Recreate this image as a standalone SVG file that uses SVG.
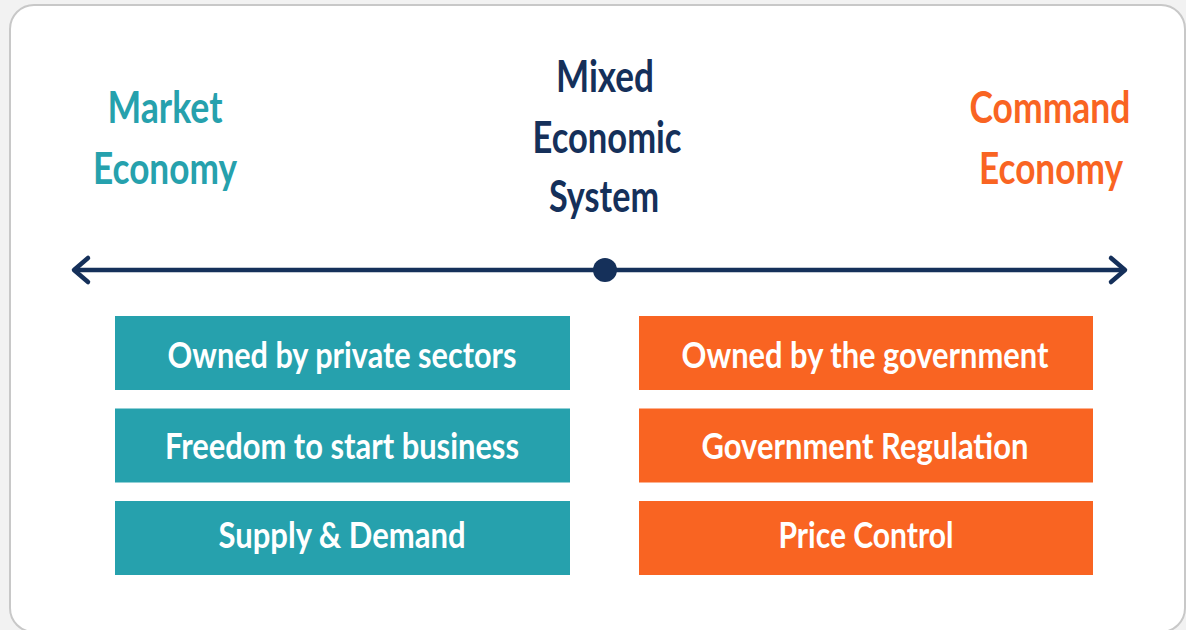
<svg xmlns="http://www.w3.org/2000/svg" width="1186" height="630" viewBox="0 0 1186 630">
<style>
.t{font-family:Lato,"Open Sans","Liberation Sans",sans-serif;font-weight:bold;text-anchor:middle}
.h{font-size:44px}
.b{font-size:36px;fill:#ffffff}
.teal{fill:#26A1AD}
.orange{fill:#F96422}
.navy{fill:#15305A}
.axis{stroke:#15305A;stroke-width:4.5;fill:none;stroke-linecap:round;stroke-linejoin:round}
</style>
<rect x="0" y="0" width="1186" height="630" fill="#f2f2f2"/>
<rect x="10" y="5" width="1175" height="627" rx="24" fill="#ffffff" stroke="#c8c8c8" stroke-width="2"/>
<g id="market-economy">
<text class="t h teal" x="165" y="123" textLength="115" lengthAdjust="spacingAndGlyphs">Market</text>
<text class="t h teal" x="165" y="184" textLength="144" lengthAdjust="spacingAndGlyphs">Economy</text>
</g>
<g id="mixed-economic-system">
<text class="t h navy" x="605" y="92" textLength="98" lengthAdjust="spacingAndGlyphs">Mixed</text>
<text class="t h navy" x="607" y="153" textLength="149" lengthAdjust="spacingAndGlyphs">Economic</text>
<text class="t h navy" x="604" y="212" textLength="110" lengthAdjust="spacingAndGlyphs">System</text>
</g>
<g id="command-economy">
<text class="t h orange" x="1050" y="123" textLength="161" lengthAdjust="spacingAndGlyphs">Command</text>
<text class="t h orange" x="1051" y="184" textLength="144" lengthAdjust="spacingAndGlyphs">Economy</text>
</g>
<g id="connectors">
<line class="axis" x1="76" y1="270" x2="1124" y2="270"/>
<polyline class="axis" points="88,258 74,270 88,282"/>
<polyline class="axis" points="1111,258 1125,270 1111,282"/>
<circle cx="605" cy="270" r="12" fill="#15305A"/>
</g>
<g id="left-1">
<rect class="teal" x="115" y="316" width="455" height="74"/>
<text class="t b" x="342" y="368" textLength="349" lengthAdjust="spacingAndGlyphs">Owned by private sectors</text>
</g>
<g id="left-2">
<rect class="teal" x="115" y="408.5" width="455" height="74"/>
<text class="t b" x="342" y="459" textLength="354" lengthAdjust="spacingAndGlyphs">Freedom to start business</text>
</g>
<g id="left-3">
<rect class="teal" x="115" y="501" width="455" height="74"/>
<text class="t b" x="342" y="548" textLength="247" lengthAdjust="spacingAndGlyphs">Supply &amp; Demand</text>
</g>
<g id="right-1">
<rect class="orange" x="639" y="316" width="454" height="74"/>
<text class="t b" x="865" y="368" textLength="367" lengthAdjust="spacingAndGlyphs">Owned by the government</text>
</g>
<g id="right-2">
<rect class="orange" x="639" y="408.5" width="454" height="74"/>
<text class="t b" x="865" y="459" textLength="327" lengthAdjust="spacingAndGlyphs">Government Regulation</text>
</g>
<g id="right-3">
<rect class="orange" x="639" y="501" width="454" height="74"/>
<text class="t b" x="866" y="548" textLength="175" lengthAdjust="spacingAndGlyphs">Price Control</text>
</g>
</svg>
